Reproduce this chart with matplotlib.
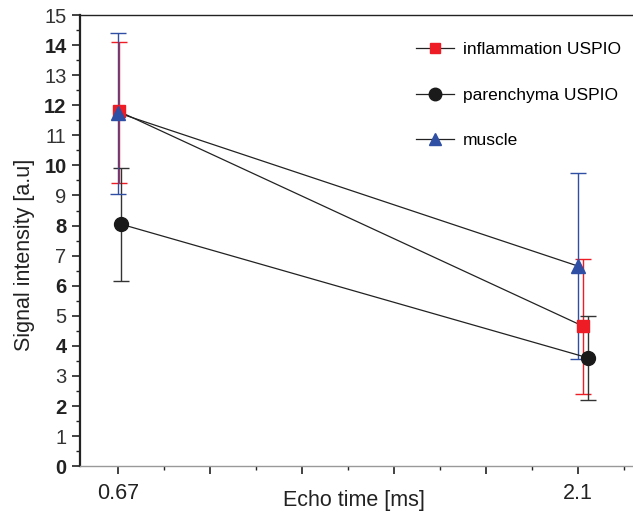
import numpy as np
import matplotlib.pyplot as plt
from matplotlib.ticker import MultipleLocator, FixedLocator

plt.rcParams['font.family'] = ['Liberation Sans', 'DejaVu Sans']

echo_times = [0.67, 2.1]
series = ['inflammation USPIO', 'parenchyma USPIO', 'muscle']

infl_mean = [11.8, 4.65]
infl_err_low = [2.4, 2.25]
infl_err_high = [2.3, 2.25]

par_mean = [8.05, 3.6]
par_err_low = [1.9, 1.4]
par_err_high = [1.85, 1.4]

mus_mean = [11.75, 6.65]
mus_err_low = [2.7, 3.1]
mus_err_high = [2.65, 3.1]

# small horizontal shifts so the error bars don't overlap (as in the original)
shift_infl = [0.003, 0.016]
shift_par = [0.009, 0.031]
shift_mus = [0.0, 0.0]

fig = plt.figure(figsize=(6.33, 5.18), dpi=100)
ax = fig.add_axes([0.126, 0.100, 0.874, 0.871])

styles = [
    (infl_mean, infl_err_low, infl_err_high, shift_infl, 's', '#ee1c25', '#ee1c25', 8),
    (par_mean, par_err_low, par_err_high, shift_par, 'o', '#1a1a1a', '#333333', 10),
    (mus_mean, mus_err_low, mus_err_high, shift_mus, '^', '#2e4fa3', '#2e4fa3', 10),
]

for label, (m, lo, hi, sh, mk, mc, ec, ms) in zip(series, styles):
    x = np.array(echo_times) + np.array(sh)
    ax.errorbar(x, m, yerr=[lo, hi], fmt='none', ecolor=ec, elinewidth=1.0,
                capsize=6, capthick=1.0, zorder=2)
    ax.plot(x, m, color='#222222', lw=0.9, zorder=3)
    ax.plot(x, m, linestyle='none', marker=mk, color=mc, markersize=ms, zorder=4)
    ax.plot([], [], color='#222222', lw=0.9, marker=mk, markerfacecolor=mc,
            markeredgecolor=mc, markersize=ms - 1, label=label)

ax.set_xlim(0.552, 2.27)
ax.set_ylim(0, 15)

step = (2.1 - 0.67) / 5
ax.xaxis.set_major_locator(FixedLocator([0.67 + i * step for i in range(6)]))
ax.xaxis.set_minor_locator(FixedLocator([0.67 + (i + 0.5) * step for i in range(6)]))
ax.set_xticklabels(['0.67', '', '', '', '', '2.1'])
ax.yaxis.set_major_locator(MultipleLocator(1))
ax.yaxis.set_minor_locator(MultipleLocator(0.5))

ax.tick_params(axis='both', which='major', direction='out', length=6, width=1.2,
               labelsize=14.5, colors='#222222')
ax.tick_params(axis='both', which='minor', direction='out', length=3, width=1.0,
               colors='#222222')
ax.tick_params(axis='x', which='major', pad=6, labelsize=15.5)
for lab in ax.get_yticklabels():
    if int(round(float(lab.get_text().replace('\u2212', '-')))) % 2 == 0:
        lab.set_fontweight('bold')
    else:
        lab.set_color('#333333')

ax.spines['right'].set_visible(False)
ax.spines['left'].set_linewidth(1.6)
ax.spines['left'].set_color('#222222')
ax.spines['top'].set_linewidth(1.0)
ax.spines['top'].set_color('#222222')
ax.spines['bottom'].set_linewidth(1.0)
ax.spines['bottom'].set_color('#999999')

ax.set_xlabel('Echo time [ms]', fontsize=15.5, color='#222222')
ax.xaxis.set_label_coords(0.495, -0.053)
ax.set_ylabel('Signal intensity [a.u]', fontsize=15.5, color='#222222')
ax.yaxis.set_label_coords(-0.080, 0.468)

ax.legend(loc='upper left', bbox_to_anchor=(0.58, 0.975), frameon=False,
          fontsize=12.5, labelspacing=1.75, handlelength=2.2, handletextpad=0.5)

fig.savefig('out.png', dpi=100)
